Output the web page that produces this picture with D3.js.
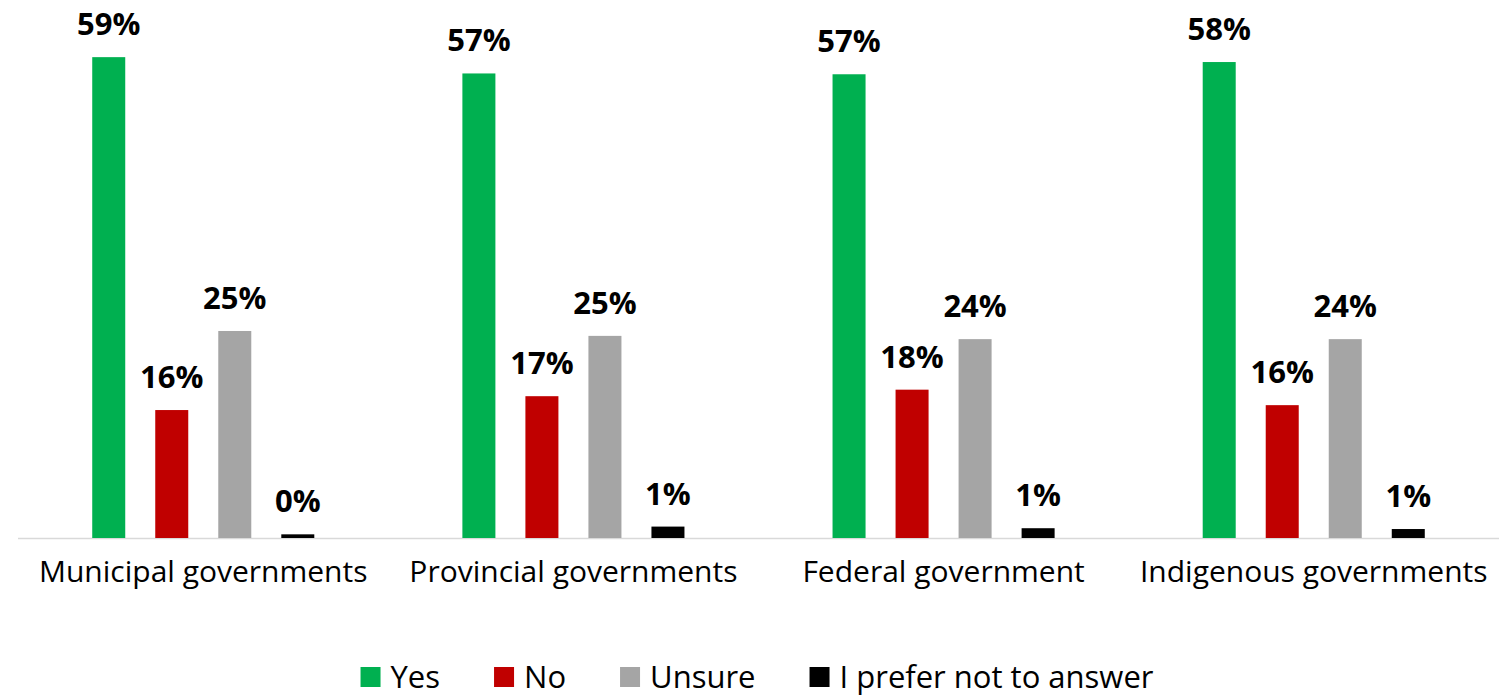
<!DOCTYPE html>
<html>
<head>
<meta charset="utf-8">
<script src="https://cdn.jsdelivr.net/npm/d3@7"></script>
<style>
  body { margin: 0; background: #fff; }
  svg { display: block; font-family: "Open Sans", sans-serif; }
</style>
</head>
<body>
<svg id="chart"></svg>
<script>
var width = 1499;
var height = 697;

// categories and series
var categories = ["Municipal governments", "Provincial governments", "Federal government", "Indigenous governments"];
var seriesNames = ["Yes", "No", "Unsure", "I prefer not to answer"];
var seriesColors = ["#00B050", "#C00000", "#A5A5A5", "#000000"];

// values in percent, one array per series (order follows categories)
var yesValues = [59.0, 57.0, 56.9, 58.4];
var noValues = [15.7, 17.4, 18.2, 16.3];
var unsureValues = [25.4, 24.8, 24.4, 24.4];
var preferNotValues = [0.45, 1.4, 1.2, 1.1];

var seriesValues = [yesValues, noValues, unsureValues, preferNotValues];

var rows = categories.map(function(c, i) {
  return {
    category: c,
    values: seriesNames.map(function(s, j) {
      return { series: s, value: seriesValues[j][i], color: seriesColors[j] };
    })
  };
});

var svg = d3.select("#chart")
  .attr("width", width)
  .attr("height", height);

var plotLeft = 18, plotRight = 1499, baseline = 538;

var x0 = d3.scaleBand()
  .domain(categories)
  .range([plotLeft, plotRight])
  .paddingInner(0.319)
  .paddingOuter(0.16);

var x1 = d3.scaleBand()
  .domain(seriesNames)
  .range([0, x0.bandwidth()])
  .paddingInner(30 / 63)
  .paddingOuter(15 / 63);

var y = d3.scaleLinear()
  .domain([0, 60])
  .range([baseline, baseline - 489]);

// baseline axis
svg.append("line")
  .attr("x1", plotLeft)
  .attr("x2", plotRight)
  .attr("y1", baseline + 0.5)
  .attr("y2", baseline + 0.5)
  .attr("stroke", "#d9d9d9")
  .attr("stroke-width", 1.5);

var groups = svg.selectAll(".group")
  .data(rows)
  .enter().append("g")
  .attr("class", "group")
  .attr("transform", function(d) { return "translate(" + x0(d.category) + ",0)"; });

groups.selectAll("rect")
  .data(function(d) { return d.values; })
  .enter().append("rect")
  .attr("x", function(d) { return x1(d.series); })
  .attr("y", function(d) { return y(d.value); })
  .attr("width", x1.bandwidth())
  .attr("height", function(d) { return baseline - y(d.value); })
  .attr("fill", function(d) { return d.color; });

groups.selectAll(".label")
  .data(function(d) { return d.values; })
  .enter().append("text")
  .attr("class", "label")
  .attr("x", function(d) { return x1(d.series) + x1.bandwidth() / 2; })
  .attr("y", function(d) { return y(d.value) - 22; })
  .attr("text-anchor", "middle")
  .attr("font-size", 31)
  .attr("font-weight", "bold")
  .attr("fill", "#000")
  .text(function(d) { return Math.round(d.value) + "%"; });

// category labels
svg.selectAll(".cat")
  .data(categories)
  .enter().append("text")
  .attr("class", "cat")
  .attr("x", function(d) { return x0(d) + x0.bandwidth() / 2; })
  .attr("y", 582)
  .attr("text-anchor", "middle")
  .attr("font-size", 30)
  .attr("fill", "#000")
  .text(function(d) { return d; });

// legend
var legend = svg.append("g").attr("class", "legend");
var items = legend.selectAll("g")
  .data(seriesNames)
  .enter().append("g");

items.append("rect")
  .attr("width", 20)
  .attr("height", 20)
  .attr("y", 667)
  .attr("fill", function(d, i) { return seriesColors[i]; });

items.append("text")
  .attr("x", 30)
  .attr("y", 688)
  .attr("font-size", 31)
  .attr("fill", "#000")
  .text(function(d) { return d; });

var offset = 0;
var positions = [];
items.each(function(d) {
  var w = 30 + d3.select(this).select("text").node().getComputedTextLength();
  positions.push(offset);
  offset += w + 54;
});
var total = offset - 54;
var start = 757 - total / 2;
items.attr("transform", function(d, i) { return "translate(" + (start + positions[i]) + ",0)"; });
</script>
</body>
</html>
